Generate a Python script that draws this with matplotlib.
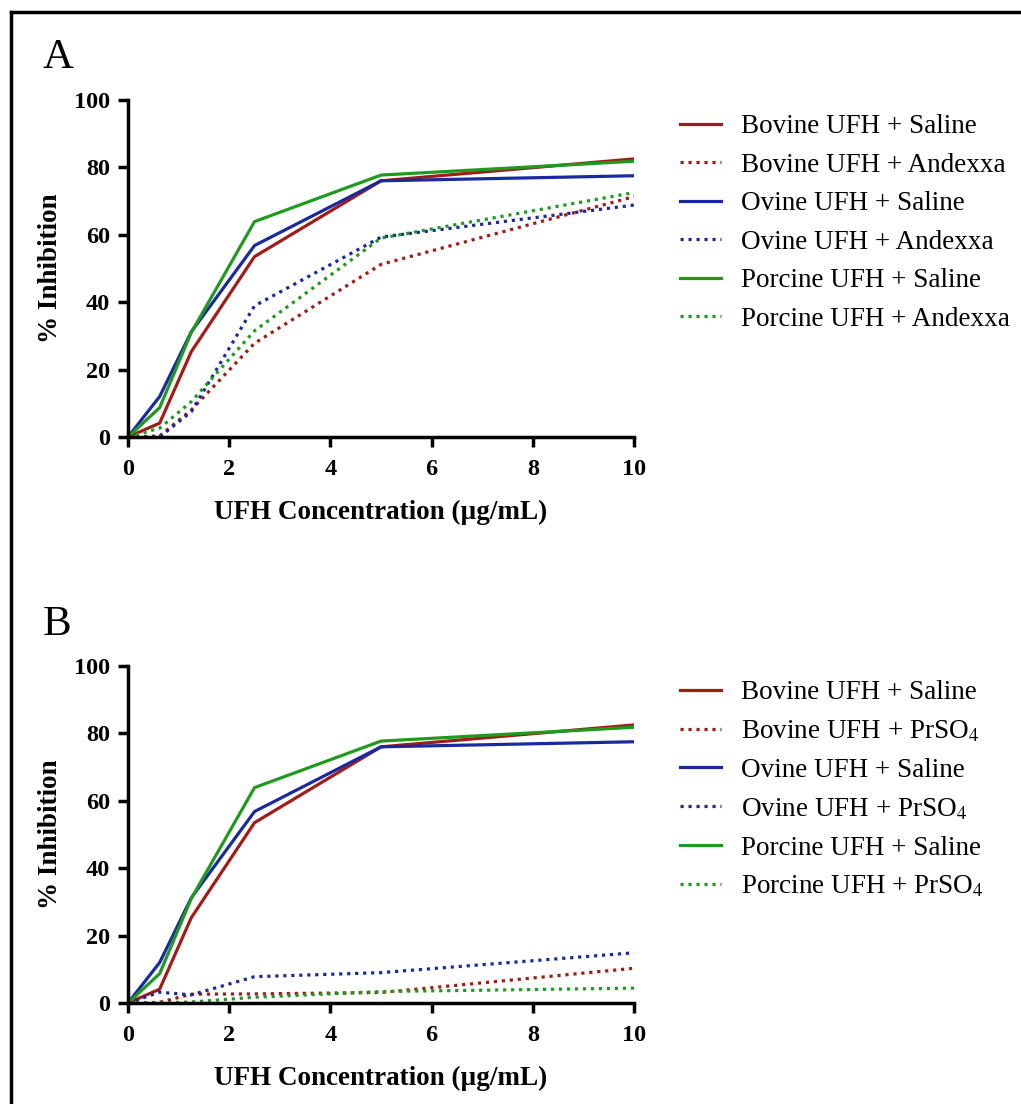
import matplotlib.pyplot as plt
from matplotlib.lines import Line2D

plt.rcParams['font.family'] = ['Liberation Serif', 'DejaVu Serif']
plt.rcParams['mathtext.fontset'] = 'stix'

conc = [0, 0.625, 1.25, 2.5, 5, 10]

# saline curves (same in both panels)
bovine_saline = [0, 4.1, 25.3, 53.5, 76.0, 82.5]
ovine_saline = [0, 12.0, 31.2, 56.8, 76.0, 77.5]
porcine_saline = [0, 8.7, 31.0, 63.9, 77.7, 81.8]

# panel A, andexxa
bovine_andexxa = [0, 0.3, 8.0, 27.8, 51.2, 71.3]
ovine_andexxa = [0, 0, 7.5, 38.9, 59.3, 68.8]
porcine_andexxa = [0, 2.6, 10.5, 31.5, 59.0, 72.5]

# panel B, protamine sulfate
bovine_prso4 = [0, 0.2, 2.6, 2.7, 3.1, 10.3]
ovine_prso4 = [0, 3.2, 2.4, 7.8, 9.0, 14.9]
porcine_prso4 = [0, 0, 0.3, 1.7, 3.4, 4.4]

red = '#a01c18'
blue = '#1a2a9e'
green = '#1f9a1f'

fig = plt.figure(figsize=(10.21, 11.04), dpi=100)

# border line on left and top
fig.add_artist(Line2D([11/1021, 11/1021], [0, 1 - 12/1104], color='black', lw=2.5, transform=fig.transFigure))
fig.add_artist(Line2D([11/1021, 1], [1 - 12/1104, 1 - 12/1104], color='black', lw=2.5, transform=fig.transFigure))


def panel(ax, treated, tname):
    ax.plot(conc, bovine_saline, color=red, lw=2.3, label='Bovine UFH + Saline')
    ax.plot(conc, treated[0], color=red, lw=2.3, ls=(0, (1, 1.5)), label='Bovine UFH + ' + tname)
    ax.plot(conc, ovine_saline, color=blue, lw=2.3, label='Ovine UFH + Saline')
    ax.plot(conc, treated[1], color=blue, lw=2.3, ls=(0, (1, 1.5)), label='Ovine UFH + ' + tname)
    ax.plot(conc, porcine_saline, color=green, lw=2.3, label='Porcine UFH + Saline')
    ax.plot(conc, treated[2], color=green, lw=2.3, ls=(0, (1, 1.5)), label='Porcine UFH + ' + tname)
    ax.set_xlim(0, 10)
    ax.set_ylim(0, 100)
    ax.set_xticks([0, 2, 4, 6, 8, 10])
    ax.set_yticks([0, 20, 40, 60, 80, 100])
    for s in ['top', 'right']:
        ax.spines[s].set_visible(False)
    for s in ['left', 'bottom']:
        ax.spines[s].set_linewidth(2.5)
    ax.tick_params(width=2.5, length=7, labelsize=17.5, pad=6)
    ax.tick_params(axis='x', pad=9)
    for lab in ax.get_xticklabels() + ax.get_yticklabels():
        lab.set_fontweight('bold')
    ax.set_xlabel('UFH Concentration (µg/mL)', fontsize=19.5, fontweight='bold', labelpad=14)
    ax.set_ylabel('% Inhibition', fontsize=19.5, fontweight='bold', labelpad=8)
    ax.legend(loc='upper left', bbox_to_anchor=(1.07, 0.99), frameon=False, fontsize=19.5,
              handlelength=1.5, handletextpad=0.75, labelspacing=0.5, borderaxespad=0)


axA = fig.add_axes([0.1254, 0.6042, 0.4956, 0.3053])
panel(axA, [bovine_andexxa, ovine_andexxa, porcine_andexxa], 'Andexxa')
fig.text(0.042, 0.938, 'A', fontsize=31)

axB = fig.add_axes([0.1254, 0.0915, 0.4956, 0.3053])
panel(axB, [bovine_prso4, ovine_prso4, porcine_prso4], 'PrSO$_4$')
fig.text(0.042, 0.425, 'B', fontsize=31)

fig.savefig('out.png', dpi=100)
